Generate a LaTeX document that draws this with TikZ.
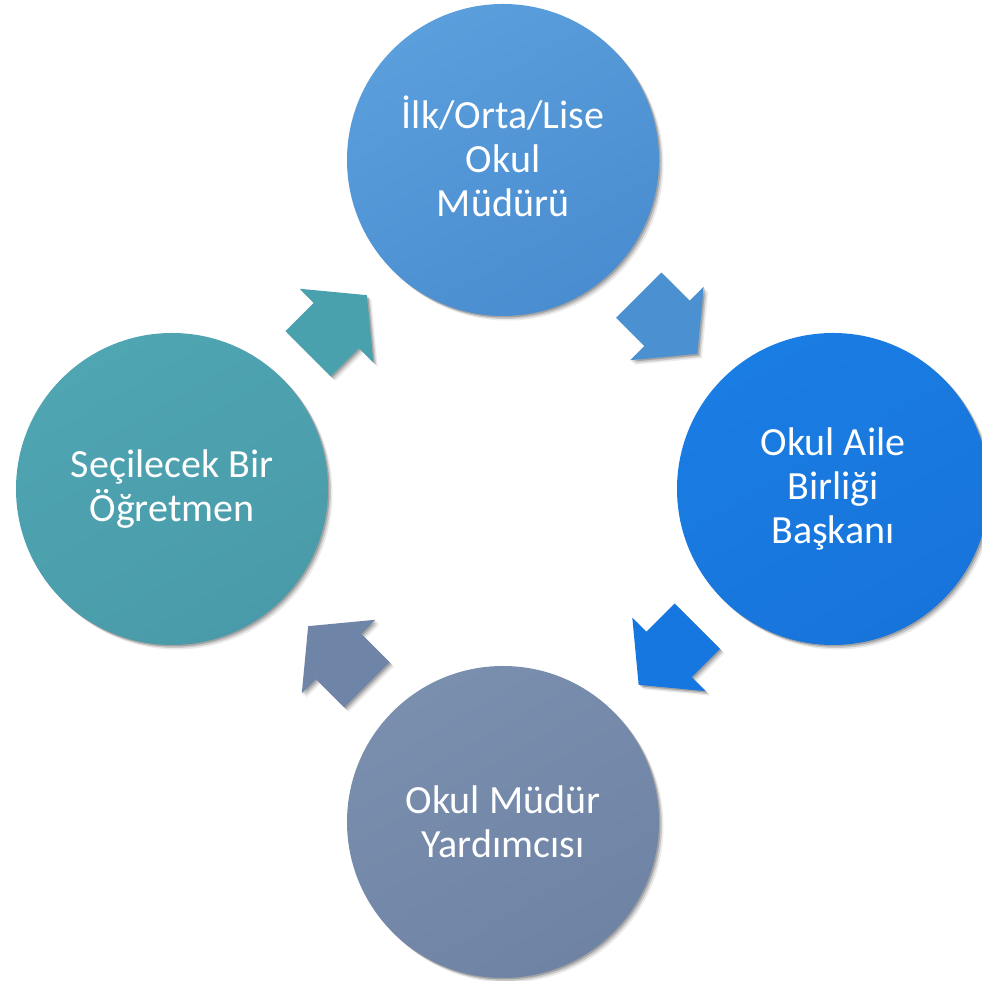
\documentclass[tikz,border=0pt]{standalone}
\usepackage{fontspec}
\setmainfont{Carlito}
\usetikzlibrary{shadows,calc}
\definecolor{cTopA}{HTML}{5A9EDC}
\definecolor{cTopB}{HTML}{4A8DD0}
\definecolor{cRightA}{HTML}{1A7DE3}
\definecolor{cRightB}{HTML}{1774DA}
\definecolor{cBotA}{HTML}{7A8FAE}
\definecolor{cBotB}{HTML}{6F84A5}
\definecolor{cLeftA}{HTML}{4FA5B2}
\definecolor{cLeftB}{HTML}{4A9BAA}
\definecolor{aTeal}{HTML}{4AA1AE}
\definecolor{aBlue}{HTML}{4B91D2}
\definecolor{aBright}{HTML}{1677E0}
\definecolor{aSlate}{HTML}{6F85A7}
\newcommand{\myblockarrow}[4]{%
  \begin{scope}[shift={($(#1)!0.5!(#2)$)}, rotate=#3]
    \fill[#4, barrow] (-41.5,-32) -- (-1.5,-32) -- (-1.5,-52) -- (41.5,0) -- (-1.5,52) -- (-1.5,32) -- (-41.5,32) -- cycle;
  \end{scope}}
\begin{document}
\begin{tikzpicture}[x=1pt,y=1pt,
  shad/.style={
    drop shadow={shadow xshift=4.5pt,shadow yshift=-4.5pt,opacity=0.08,fill=black},
    drop shadow={shadow xshift=3pt,shadow yshift=-3pt,opacity=0.14,fill=black},
    drop shadow={shadow xshift=1.5pt,shadow yshift=-1.5pt,opacity=0.2,fill=black}},
  circ/.style={circle, minimum size=312pt, inner sep=0pt, text=white, align=center,
    font=\fontsize{40}{44}\selectfont, shad},
  barrow/.style={shad}
]
\useasboundingbox (0,0) rectangle (982,981);
\node[circ, top color=cTopA, bottom color=cTopB, shading angle=30] (top) at (503,821) {};
\node[text=white, align=center, font=\fontsize{40}{44}\selectfont] (toptext) at (503,825) {İlk/Orta/Lise\\Okul\\Müdürü};
\node[circ, top color=cRightA, bottom color=cRightB, shading angle=30] (right) at (833,492) {Okul Aile\\Birliği\\Başkanı};
\node[circ, top color=cBotA, bottom color=cBotB, shading angle=30] (bottom) at (503,159) {Okul Müdür\\Yardımcısı};
\node[circ, top color=cLeftA, bottom color=cLeftB, shading angle=30] (left) at (172,492) {Seçilecek Bir\\Öğretmen};
\myblockarrow{left}{top}{45}{aTeal}
\myblockarrow{top}{right}{-45}{aBlue}
\myblockarrow{right}{bottom}{-135}{aBright}
\myblockarrow{bottom}{left}{135}{aSlate}
\end{tikzpicture}
\end{document}
